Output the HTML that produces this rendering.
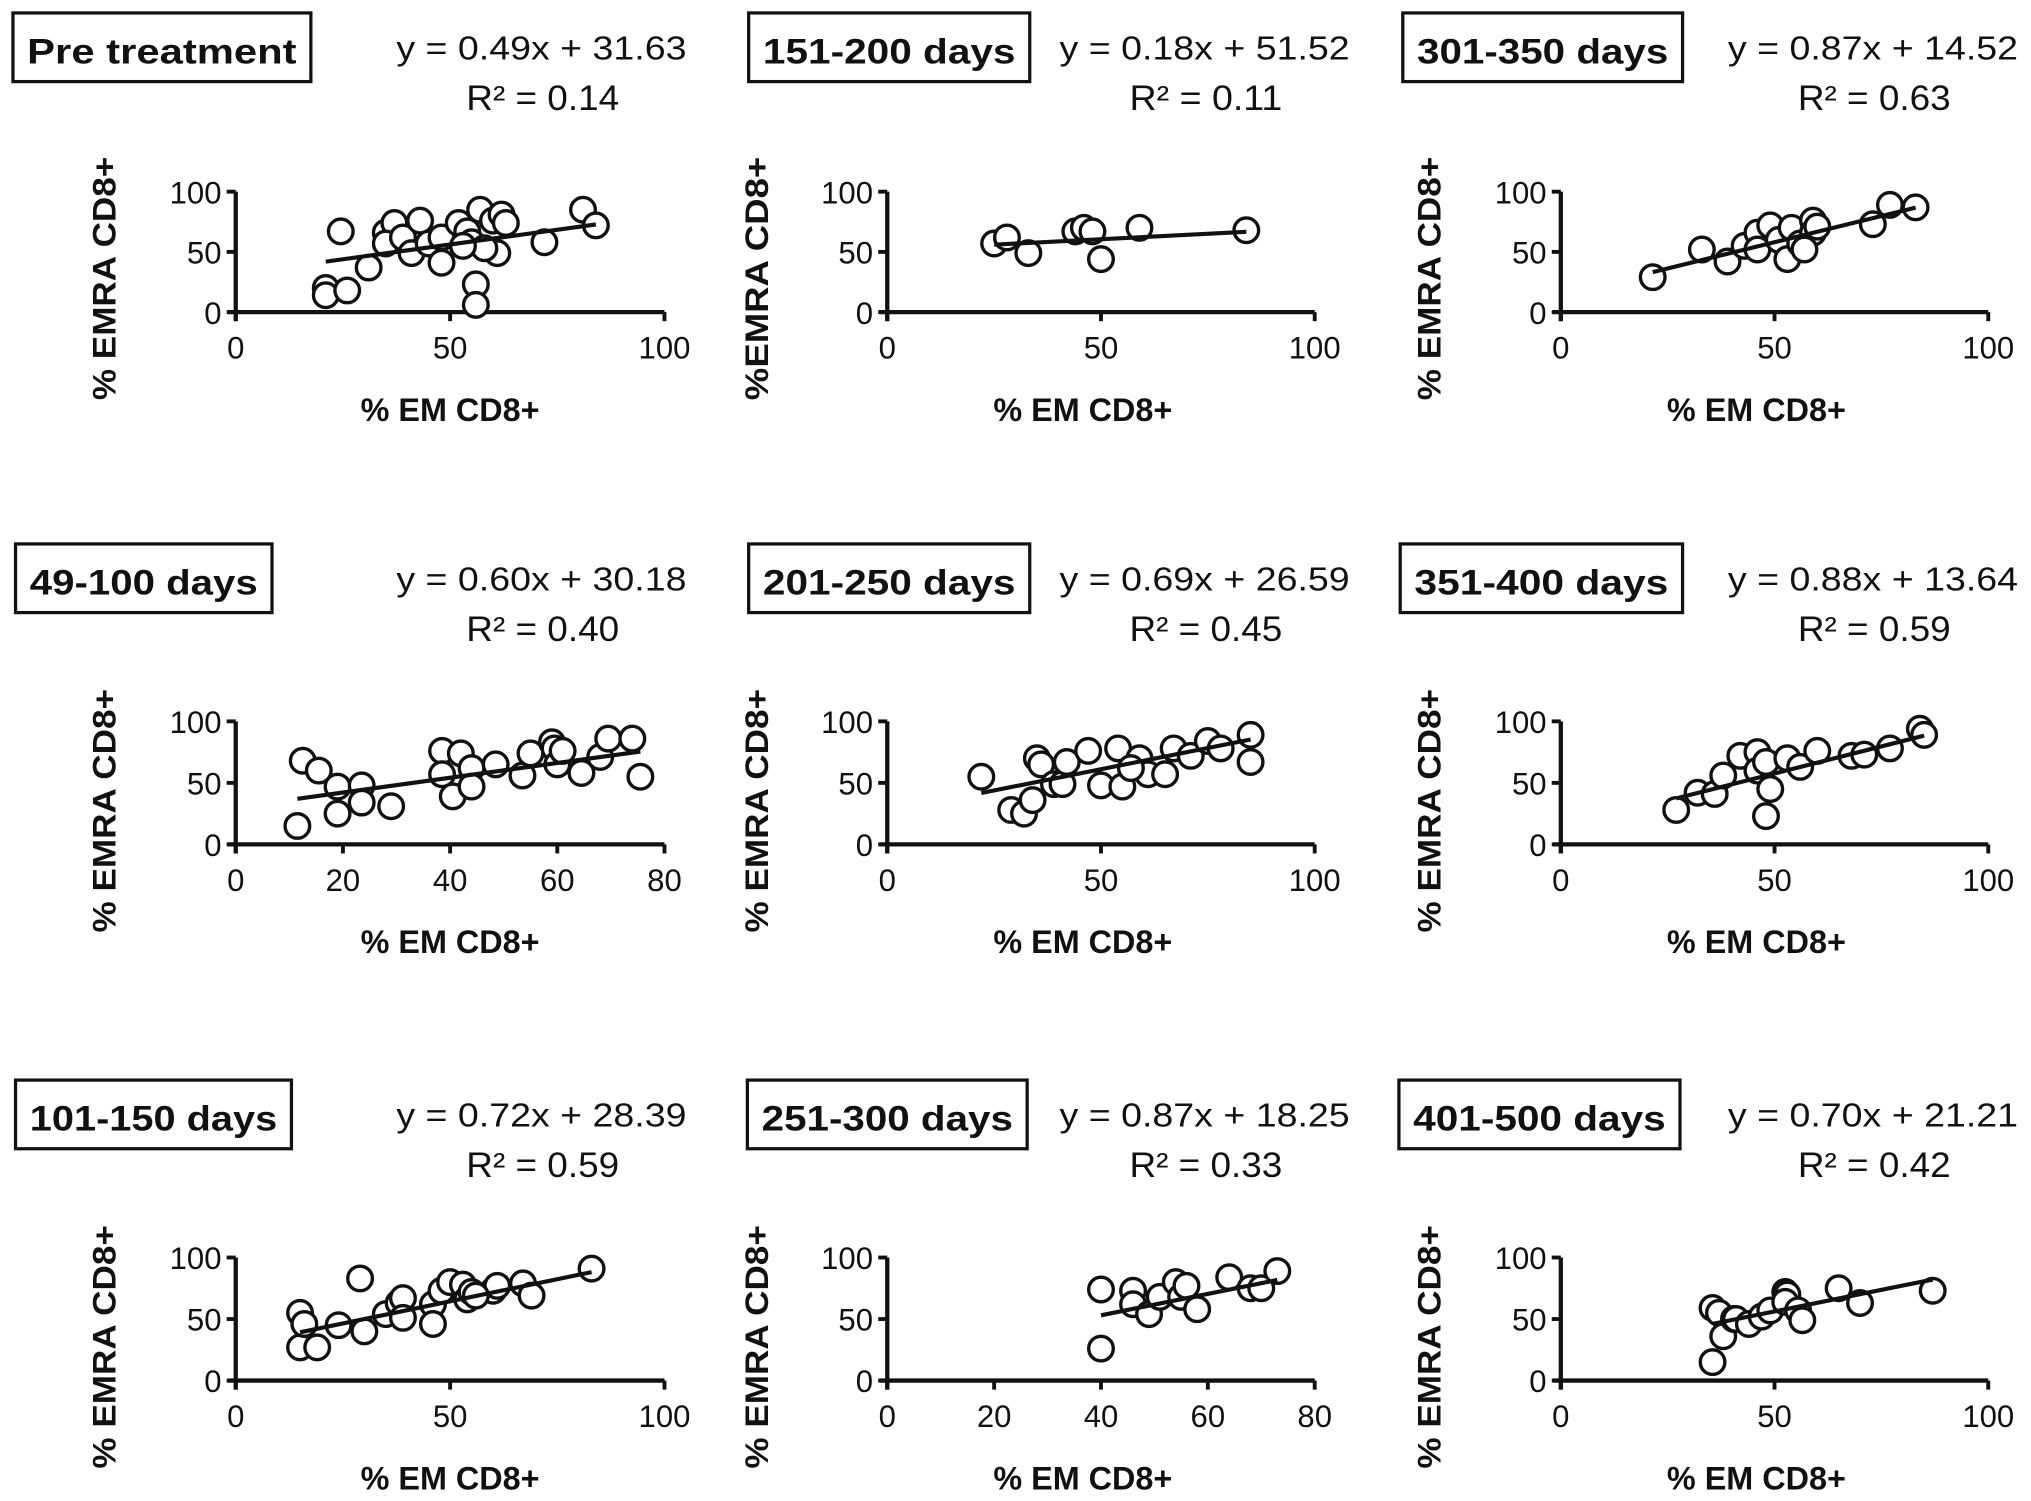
<!DOCTYPE html>
<html><head><meta charset="utf-8">
<style>
html,body{margin:0;padding:0;background:#fff;}
svg{display:block;}
text{font-family:"Liberation Sans",Arial,sans-serif;fill:#111;}
</style></head>
<body>
<svg id="fig" width="2031" height="1501" viewBox="0 0 1568 1159" preserveAspectRatio="none" xmlns="http://www.w3.org/2000/svg"></svg>
<script>
const panelTitles=["Pre treatment","151-200 days","301-350 days","49-100 days","201-250 days","351-400 days","101-150 days","251-300 days","401-500 days"];
const eqTexts=["y = 0.49x + 31.63","y = 0.18x + 51.52","y = 0.87x + 14.52","y = 0.60x + 30.18","y = 0.69x + 26.59","y = 0.88x + 13.64","y = 0.72x + 28.39","y = 0.87x + 18.25","y = 0.70x + 21.21"];
const slopes=[0.49,0.18,0.87,0.60,0.69,0.88,0.72,0.87,0.70];
const intercepts=[31.63,51.52,14.52,30.18,26.59,13.64,28.39,18.25,21.21];
const r2Texts=["0.14","0.11","0.63","0.40","0.45","0.59","0.59","0.33","0.42"];
const xMaxes=[100,100,100,80,100,100,100,80,100];
const xTicks100=[0,50,100];
const xTicks80=[0,20,40,60,80];
const yTicks=[0,50,100];
const yTitles=["% EMRA CD8+","%EMRA CD8+","% EMRA CD8+","% EMRA CD8+","% EMRA CD8+","% EMRA CD8+","% EMRA CD8+","% EMRA CD8+","% EMRA CD8+"];
const xsData=[
[21,21,24.5,26,31,35,37,35,39,41,43,45,48,48,52,54,55,57,56,56,60,61,62,63,72,81,84,58,53],
[25,28,33,44,46,48,50,59,84],
[21.5,33,39,43,46,46,49,51,53,54,56,59,59,60,57,73,77,83],
[11.5,12.5,15.5,19,19,23.5,23.5,29,38.5,38.5,40.5,42,44,44,48.5,53.5,55,59,59.5,60,64.5,68,69.5,74,75.5,61],
[22,29,32,34,35,36,39,41,42,47,50,55,54,59,61,65,67,71,75,78,85,85,57],
[27,32,36,38,42,46,46,48,48,49,53,56,60,68,71,77,84,85],
[15,15,16,19,24,29,30,35,38,39,39,46,46,48,50,53,54,55,60,61,67,69,83,56],
[40,40,46,46,49,51,54,55,56,58,64,68,70,73],
[35.5,35.5,37,38,40.5,41,44,47,49,52.5,53,52.5,55.5,56.5,65,70,87]];
const ysData=[
[20,14,67,18,37,66,74,57,62,49,76,57,41,62,74,67,58,85,23,6,76,49,81,74,58,85,72,53,55],
[57,62,49,67,70,67,44,70,68],
[29,52,42,55,66,52,72,60,44,70,57,76,66,71,52,73,89,87],
[15,68,60,47,25,48,34,31,76,57,39,74,62,47,65,56,74,83,78,65,58,71,86,86,55,76],
[55,28,25,36,70,65,49,49,67,76,48,47,78,70,57,57,78,72,84,78,89,67,62],
[28,42,41,56,72,75,60,67,23,45,70,63,76,72,73,78,94,89],
[27,55,46,27,45,83,40,54,63,67,51,62,46,73,80,78,66,72,73,77,79,69,91,69],
[74,26,73,62,54,68,80,68,77,58,84,75,75,89],
[15,59,55,36,50,50,46,52,57,72,70,64,57,49,75,63,73]];

const NS="http://www.w3.org/2000/svg";
const svg=document.getElementById('fig');
const colX0=[182,685,1205], colX1=[513,1015,1535];
const rowY0=[241,652,1066], rowY1=[148,557,971];
const boxes=[[10,10,230],[578,10,217],[1083,10,216],[12,420,198],[578,420,217],[1081,420,218],[12,834,213],[577,834,216],[1080,834,217]];
const eqCenters=[418,930,1446];
function mk(tag,attrs,parent){const e=document.createElementNS(NS,tag);for(const k in attrs)e.setAttribute(k,attrs[k]);(parent||svg).appendChild(e);return e;}

for(let p=0;p<9;p++){
  const c=p%3,r=Math.floor(p/3);
  const g=mk('g',{});
  
  
  const X0=colX0[c],X1=colX1[c],Y0=rowY0[r],Y1=rowY1[r];
  const xmax=xMaxes[p];
  const sx=v=>X0+(X1-X0)*v/xmax;
  const sy=v=>Y0+(Y1-Y0)*v/100;
  const b=boxes[p];
  const rect=mk('rect',{x:b[0],y:b[1],width:b[2],height:53,fill:'#fff',stroke:'#111','stroke-width':2.5},g);
  
  
  const tt=mk('text',{x:b[0]+b[2]/2,y:b[1]+39,'text-anchor':'middle','font-size':27,'font-weight':'bold',textLength:b[2]-22,lengthAdjust:'spacingAndGlyphs'},g);
  tt.textContent=panelTitles[p];
  
  
  const ec=eqCenters[c];
  const eq=mk('text',{x:ec,y:b[1]+36,'text-anchor':'middle','font-size':26,textLength:224,lengthAdjust:'spacingAndGlyphs'},g);
  eq.textContent=eqTexts[p];
  
  
  const r2=mk('text',{x:ec-58,y:b[1]+75,'text-anchor':'start','font-size':27,textLength:118,lengthAdjust:'spacingAndGlyphs'},g);
  r2.textContent='R² = '+r2Texts[p];
  
  
  const xa=mk('line',{x1:X0-6,y1:Y0,x2:X1,y2:Y0,stroke:'#111','stroke-width':3.3},g);
  
  
  const ya=mk('line',{x1:X0,y1:Y0+7,x2:X0,y2:Y1,stroke:'#111','stroke-width':3.3},g);
  
  
  const xt=xmax===80?xTicks80:xTicks100;
  xt.forEach(v=>{
    mk('line',{x1:sx(v),y1:Y0,x2:sx(v),y2:Y0+7,stroke:'#111','stroke-width':3},g);
    const t=mk('text',{x:sx(v),y:Y0+36,'text-anchor':'middle','font-size':24},g);
    t.textContent=v;
    
    
  });
  yTicks.forEach(v=>{
    mk('line',{x1:X0-7,y1:sy(v),x2:X0,y2:sy(v),stroke:'#111','stroke-width':3},g);
    const t=mk('text',{x:X0-11,y:sy(v)+9,'text-anchor':'end','font-size':24},g);
    t.textContent=v;
    
    
  });
  const xc=(X0+X1)/2+(c===0?0:-14);
  const xtl=mk('text',{x:xc,y:Y0+84,'text-anchor':'middle','font-size':25,'font-weight':'bold'},g);
  xtl.textContent='% EM CD8+';
  
  
  const yx=[89,593,1112][c], yc=Y0-26;
  const ytl=mk('text',{x:yx,y:yc,'text-anchor':'middle','font-size':25,'font-weight':'bold',transform:'rotate(-90 '+yx+' '+yc+')',textLength:188,lengthAdjust:'spacingAndGlyphs'},g);
  ytl.textContent=yTitles[p];
  
  
  const xs=xsData[p],ys=ysData[p];
  for(let i=0;i<xs.length;i++){
    const pt=mk('circle',{cx:sx(xs[i]),cy:sy(ys[i]),r:9.5,fill:'#fff',stroke:'#111','stroke-width':2.6},g);
    
    
  }
  const mn=Math.min(...xs),mx=Math.max(...xs);
  const fl=mk('line',{x1:sx(mn),y1:sy(slopes[p]*mn+intercepts[p]),x2:sx(mx),y2:sy(slopes[p]*mx+intercepts[p]),stroke:'#111','stroke-width':3.2},g);
  
  
}
</script>
</body></html>
